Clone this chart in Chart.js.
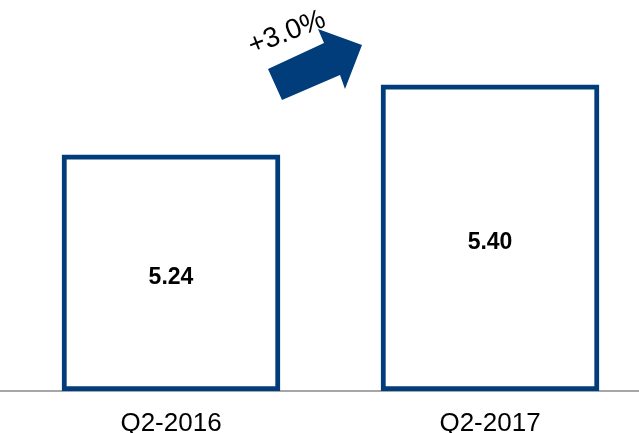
<!DOCTYPE html>
<html>
<head>
<meta charset="utf-8">
<script src="https://cdn.jsdelivr.net/npm/chart.js@4"></script>
<style>
  html, body { margin: 0; padding: 0; background: #fff; }
  #wrap { width: 639px; height: 433px; }
</style>
</head>
<body>
<div id="wrap"><canvas id="growthChart" width="639" height="433"></canvas></div>
<script>
const categories = ['Q2-2016', 'Q2-2017'];
const values = [5.24, 5.40];
const growthLabel = '+3.0%';
const axisMin = 4.7;
const axisMax = 5.5;

const navy = '#003d7a';

// value labels in the middle of each bar, plus the growth arrow
const barLabels = {
    id: 'barLabels',
    afterDatasetsDraw(chart) {
        const ctx = chart.ctx;
        const meta = chart.getDatasetMeta(0);
        ctx.save();
        ctx.fillStyle = '#000';
        ctx.font = 'bold 23px "Liberation Sans", Arial, sans-serif';
        ctx.textAlign = 'center';
        ctx.textBaseline = 'middle';
        meta.data.forEach((bar, i) => {
            const mid = (bar.y + bar.base) / 2;
            ctx.fillText(values[i].toFixed(2), bar.x, mid + 5);
        });
        ctx.restore();
    },
    afterDraw(chart) {
        const ctx = chart.ctx;
        ctx.save();
        // block arrow
        ctx.fillStyle = navy;
        ctx.beginPath();
        ctx.moveTo(268, 69);
        ctx.lineTo(282, 100);
        ctx.lineTo(340, 75);
        ctx.lineTo(345, 89);
        ctx.lineTo(362, 45);
        ctx.lineTo(318, 29);
        ctx.lineTo(324, 43);
        ctx.closePath();
        ctx.fill();
        // rotated growth text
        ctx.translate(287, 33);
        ctx.rotate(-21 * Math.PI / 180);
        ctx.fillStyle = '#000';
        ctx.font = '28px "Liberation Sans", Arial, sans-serif';
        ctx.textAlign = 'center';
        ctx.textBaseline = 'middle';
        ctx.fillText(growthLabel, 0, 0);
        ctx.restore();
    }
};

const ctx = document.getElementById('growthChart').getContext('2d');
new Chart(ctx, {
    type: 'bar',
    data: {
        datasets: [{
            data: values.map((v, i) => ({ x: i, y: v })),
            base: axisMin,
            backgroundColor: '#ffffff',
            borderColor: navy,
            borderWidth: 5,
            borderSkipped: false,
            barThickness: 218
        }]
    },
    options: {
        responsive: false,
        animation: false,
        layout: { padding: { top: 41, left: 0, right: 0, bottom: 0 } },
        plugins: {
            legend: { display: false },
            tooltip: { enabled: false }
        },
        scales: {
            x: {
                type: 'linear',
                offset: false,
                min: -0.536,
                max: 1.467,
                z: 1,
                grid: { display: false, drawTicks: false },
                border: { display: true, color: '#a6a6a6', width: 2 },
                afterBuildTicks(scale) {
                    scale.ticks = categories.map((c, i) => ({ value: i }));
                },
                afterFit(scale) {
                    scale.height = 42;
                },
                ticks: {
                    padding: 17,
                    color: '#000',
                    font: { family: '"Liberation Sans", Arial, sans-serif', size: 26 },
                    callback: (v) => categories[v]
                }
            },
            y: {
                display: false,
                min: axisMin,
                max: axisMax
            }
        }
    },
    plugins: [barLabels]
});
</script>
</body>
</html>
